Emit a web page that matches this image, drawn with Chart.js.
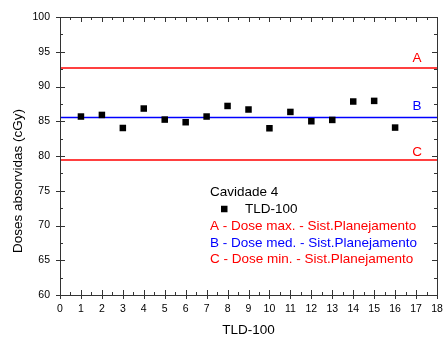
<!DOCTYPE html>
<html>
<head>
<meta charset="utf-8">
<script src="https://cdn.jsdelivr.net/npm/chart.js@4/dist/chart.umd.min.js"></script>
<style>
html,body{margin:0;padding:0;background:#fff;}
#wrap{width:443px;height:337px;}
</style>
</head>
<body>
<div id="wrap"><canvas id="c" width="443" height="337"></canvas></div>
<script>
// ---- data ----
const tldIndex = [1,2,3,4,5,6,7,8,9,10,11,12,13,14,15,16];
const tldDose  = [85.68,85.91,84.03,86.83,85.24,84.86,85.68,87.20,86.69,83.99,86.34,85.00,85.19,87.84,87.93,84.09];
const doseMax = 92.65;   // A
const doseMed = 85.55;   // B
const doseMin = 79.42;   // C
const refLabels = ['A','B','C'];
const refValues = [doseMax, doseMed, doseMin];
const refColors = ['#ff0000','#0000ff','#ff0000'];
const legendTitle = 'Cavidade 4';
const seriesName = 'TLD-100';
const refTexts = ['A - Dose max. - Sist.Planejamento','B - Dose med. - Sist.Planejamento','C - Dose min. - Sist.Planejamento'];
const xTitle = 'TLD-100';
const yTitle = 'Doses absorvidas (cGy)';

const FONT = '"Liberation Sans", Arial, sans-serif';

const points = tldIndex.map((x,i)=>({x:x, y:tldDose[i]}));
const refDatasets = refValues.map((v,i)=>({
  type:'line',
  label: refLabels[i],
  data:[{x:0,y:v},{x:18,y:v}],
  borderColor: refColors[i],
  borderWidth:1.5,
  pointRadius:0,
  fill:false
}));

const decor = {
  id:'decor',
  afterDraw(chart){
    const ctx = chart.ctx;
    const xs = chart.scales.x, ys = chart.scales.y;
    const a = chart.chartArea;
    ctx.save();
    // frame
    ctx.strokeStyle = '#333';
    ctx.lineWidth = 1;
    ctx.strokeRect(Math.round(a.left)+0.5, Math.round(a.top)+0.5, Math.round(a.right-a.left), Math.round(a.bottom-a.top));
    ctx.beginPath();
    for (let v=0; v<=18.001; v+=0.5){
      const major = Math.abs(v-Math.round(v))<1e-6;
      const px = Math.round(xs.getPixelForValue(v))+0.5;
      const inL = major?5:3;
      ctx.moveTo(px, a.bottom - inL); ctx.lineTo(px, a.bottom + (major?4:0));
      ctx.moveTo(px, a.top); ctx.lineTo(px, a.top + inL);
    }
    for (let v=60; v<=100.001; v+=2.5){
      const major = Math.abs(v/5-Math.round(v/5))<1e-6;
      const py = Math.round(ys.getPixelForValue(v))+0.5;
      const inL = major?5:3;
      ctx.moveTo(a.left - (major?4:0), py); ctx.lineTo(a.left + inL, py);
      ctx.moveTo(a.right - inL, py); ctx.lineTo(a.right, py);
    }
    ctx.stroke();

    // A B C labels
    ctx.font = '13.5px ' + FONT;
    ctx.textAlign = 'center';
    ctx.textBaseline = 'middle';
    const labelY = [94.1, 87.1, 80.6];
    refLabels.forEach((t,i)=>{
      ctx.fillStyle = refColors[i];
      ctx.fillText(t, xs.getPixelForValue(17.05), ys.getPixelForValue(labelY[i]));
    });

    // legend box
    const lx = a.left + 150, ly = a.top + 175;
    ctx.textAlign = 'left';
    ctx.fillStyle = '#000';
    ctx.fillText(legendTitle, lx, ly);
    ctx.fillRect(lx + 11, ly + 17 - 3.25, 6.5, 6.5);
    ctx.fillText(seriesName, lx + 35, ly + 17);
    refTexts.forEach((t,i)=>{
      ctx.fillStyle = refColors[i];
      ctx.fillText(t, lx, ly + 34 + i*16.8);
    });
    ctx.restore();
  }
};

new Chart(document.getElementById('c'), {
  type:'scatter',
  data:{
    datasets:[
      {label:seriesName, data:points, pointStyle:'rect', pointRadius:4.6, pointHoverRadius:4.6,
       backgroundColor:'#000', borderColor:'#000', borderWidth:0, showLine:false},
      ...refDatasets
    ]
  },
  options:{
    responsive:false,
    animation:false,
    layout:{padding:{left:0,right:6,top:17,bottom:0}},
    plugins:{legend:{display:false}, tooltip:{enabled:false}},
    scales:{
      x:{
        type:'linear', min:0, max:18,
        ticks:{stepSize:1, color:'#000', font:{family:FONT,size:10.5}, padding:8, maxRotation:0, autoSkip:false},
        grid:{display:true, drawOnChartArea:false, drawTicks:false},
        border:{display:false},
        title:{display:true, text:xTitle, color:'#000', font:{family:FONT,size:13.5}, padding:{top:0,bottom:-1}},
        afterFit(s){ s.height = 42; s.paddingLeft = 0; s.paddingRight = 0; }
      },
      y:{
        type:'linear', min:60, max:100,
        ticks:{stepSize:5, color:'#000', font:{family:FONT,size:10.5}, padding:10},
        grid:{display:true, drawOnChartArea:false, drawTicks:false},
        border:{display:false},
        title:{display:false},
        afterFit(s){ s.width = 60; s.paddingTop = 0; s.paddingBottom = 0; }
      }
    }
  },
  plugins:[decor, {
    id:'ytitle',
    afterDraw(chart){
      const ctx = chart.ctx;
      const ys = chart.scales.y;
      ctx.save();
      ctx.translate(18.5, ys.getPixelForValue(80) + 25);
      ctx.rotate(-Math.PI/2);
      ctx.font = '13.5px ' + FONT;
      ctx.fillStyle = '#000';
      ctx.textAlign = 'center';
      ctx.textBaseline = 'middle';
      ctx.fillText(yTitle, 0, 0);
      ctx.restore();
    }
  }]
});
</script>
</body>
</html>
